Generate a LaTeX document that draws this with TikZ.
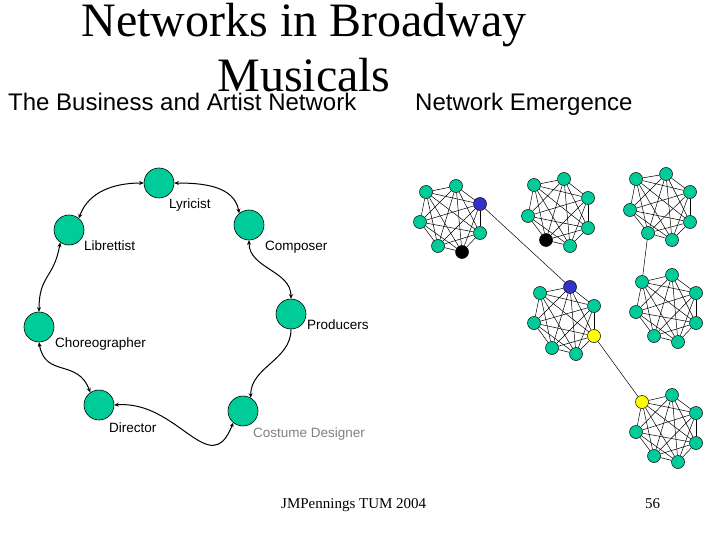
\documentclass[tikz,border=0pt]{standalone}
\usepackage{fontspec}
\setmainfont{Liberation Serif}
\setsansfont{Liberation Sans}
\usetikzlibrary{arrows.meta,backgrounds}
\definecolor{bwGreen}{RGB}{0,204,153}
\definecolor{bwBlue}{RGB}{51,51,204}
\definecolor{bwYellow}{RGB}{255,255,0}
\definecolor{bwGray}{RGB}{128,128,128}
\tikzset{
  headline/.style={font=\rmfamily\fontsize{48}{55}\selectfont, anchor=base,
    inner sep=0pt},
  subhead/.style={font=\sffamily\fontsize{24}{28}\selectfont, anchor=base west,
    inner sep=0pt},
  footline/.style={font=\rmfamily\fontsize{15}{17}\selectfont, anchor=base west,
    inner sep=0pt},
  role/.style={circle, draw=black, line width=.6pt, fill=bwGreen,
    minimum size=30pt, inner sep=0pt},
  rolename/.style={font=\sffamily\fontsize{13.5}{15}\selectfont,
    anchor=base west, inner sep=0pt},
  member/.style={circle, draw=black, line width=.5pt, minimum size=13pt,
    inner sep=0pt},
  tie/.style={line width=.5pt, draw=black},
  link/.style={{Stealth[length=4.5pt,width=4pt]}-{Stealth[length=4.5pt,width=4pt]},
    line width=1pt}
}
\begin{document}
\begin{tikzpicture}[x=1pt,y=1pt]
\path[use as bounding box] (0,0) rectangle (720,-540);

% title and headings
\node[headline] (title1) at (304,-37) {Networks in Broadway};
\node[headline] (title2) at (304,-92) {Musicals};
\node[subhead] (lefthead) at (8,-111) {The Business and Artist Network};
\node[subhead] (righthead) at (415,-111) {Network Emergence};

% the business and artist circle
\node[role] (lyricist) at (159,-183) {};
\node[role] (composer) at (249,-225) {};
\node[role] (producers) at (291,-314) {};
\node[role] (costume) at (243,-411) {};
\node[role] (director) at (99,-405) {};
\node[role] (choreo) at (39,-327) {};
\node[role] (libretto) at (69,-230) {};

\node[rolename] (lyricistname) at (169,-209) {Lyricist};
\node[rolename] (librettoname) at (84,-251) {Librettist};
\node[rolename] (composername) at (265,-251) {Composer};
\node[rolename] (producersname) at (307,-329) {Producers};
\node[rolename] (choreoname) at (55,-347) {Choreographer};
\node[rolename] (directorname) at (109,-432) {Director};
\node[rolename, text=bwGray] (costumename) at (253,-437) {Costume Designer};

\draw[link] (lyricist.west) to[out=180,in=70] (libretto.50);
\draw[link] (lyricist.east) to[out=0,in=100] (composer.130);
\draw[link] (composer.south) to[out=-90,in=90] (producers.north);
\draw[link, {-Stealth[length=4.5pt,width=4pt]}] (producers.south) to[out=-90,in=90] (costume.60);
\draw[link] (costume.230) .. controls (210,-482) and (178,-400) .. (director.east);
\draw[link] (director.125) to[out=110,in=-80,looseness=1.3] (choreo.south);
\draw[link] (choreo.north) to[out=90,in=-100,looseness=1.3] (libretto.235);

% network emergence clusters
\foreach \n/\x/\y/\f in {
  a1/426/192/bwGreen, a2/456/186/bwGreen, a3/480/204/bwBlue, a4/420/222/bwGreen,
  a5/480/233/bwGreen, a6/438/246/bwGreen, a7/462/252/black,
  b1/534/185/bwGreen, b2/564/179/bwGreen, b3/588/198/bwGreen, b4/528/216/bwGreen,
  b5/588/228/bwGreen, b6/546/240/black, b7/570/246/bwGreen,
  c1/636/179/bwGreen, c2/666/174/bwGreen, c3/690/192/bwGreen, c4/630/210/bwGreen,
  c5/690/222/bwGreen, c6/648/233/bwGreen, c7/672/240/bwGreen,
  d1/570/287/bwBlue, d2/540/293/bwGreen, d3/594/306/bwGreen, d4/534/323/bwGreen,
  d5/594/336/bwYellow, d6/552/348/bwGreen, d7/576/354/bwGreen,
  e1/642/282/bwGreen, e2/672/275/bwGreen, e3/696/293/bwGreen, e4/636/312/bwGreen,
  e5/696/323/bwGreen, e6/654/336/bwGreen, e7/678/342/bwGreen,
  f1/642/402/bwYellow, f2/672/395/bwGreen, f3/696/413/bwGreen, f4/636/432/bwGreen,
  f5/696/443/bwGreen, f6/654/456/bwGreen, f7/678/462/bwGreen}
  \node[member, fill=\f] (\n) at (\x,-\y) {};

\begin{scope}[on background layer]
  \foreach \c in {a,b,c,d,e,f}
    \foreach \i in {1,...,6}{
      \pgfmathtruncatemacro{\nxt}{\i+1}
      \foreach \j in {\nxt,...,7} \draw[tie] (\c\i) -- (\c\j);
    }
  \draw[tie] (a3) -- (d1);
  \draw[tie] (c6) -- (e1);
  \draw[tie] (d5) -- (f1);
\end{scope}

% footer
\node[footline] (author) at (281,-508) {JMPennings TUM 2004};
\node[footline] (pageno) at (645,-508) {56};
\end{tikzpicture}
\end{document}
